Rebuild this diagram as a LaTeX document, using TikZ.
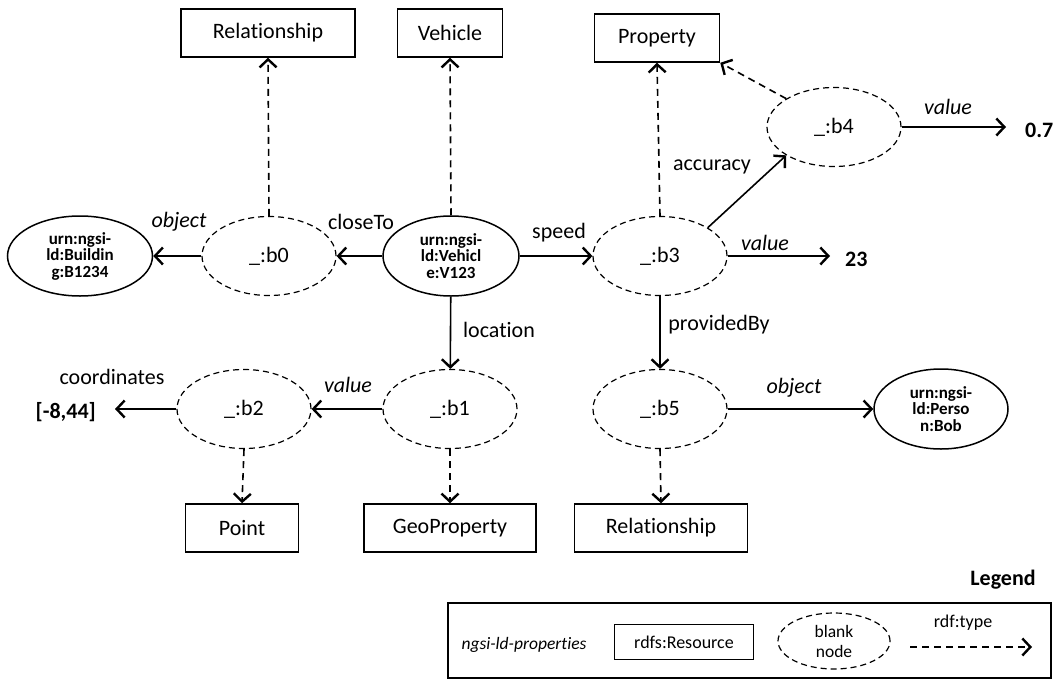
\documentclass[tikz,border=0pt]{standalone}
\usepackage{fontspec}
\setmainfont{Carlito}[Ligatures={NoCommon}]
\usetikzlibrary{shapes.geometric,arrows.meta}
\begin{document}
\begin{tikzpicture}[x=1pt,y=-1pt,
  font=\fontsize{22}{26}\selectfont,
  box/.style={draw,line width=1.5pt,minimum height=48pt,inner sep=0pt},
  res/.style={draw,ellipse,line width=1.5pt,minimum width=#1,minimum height=80pt,inner sep=0pt,align=center,font=\fontsize{17}{16.5}\selectfont\bfseries},
  blank/.style={draw,ellipse,dash pattern=on 6pt off 4pt,line width=1.2pt,minimum width=134pt,minimum height=79pt,inner sep=0pt},
  rel/.style={line width=1.6pt,-{Straight Barb[length=8pt,width=17pt,line width=2.4pt]}},
  typ/.style={rel,dash pattern=on 7pt off 5pt},
  lab/.style={inner sep=0pt},
  ilab/.style={inner sep=0pt,font=\fontsize{22}{26}\selectfont\itshape},
  val/.style={inner sep=0pt,font=\fontsize{22}{26}\selectfont\bfseries},
  legtxt/.style={inner sep=0pt,font=\fontsize{18}{20}\selectfont},
]
\useasboundingbox (0,0) rectangle (1057,680);

% type boxes
\node[box,minimum width=174pt] (trel1) at (268,33) {Relationship};
\node[box,minimum width=105pt] (tveh) at (450,33) {Vehicle};
\node[box,minimum width=125pt] (tprop) at (657,38) {Property};
\node[box,minimum width=113pt] (tpoint) at (242,528) {Point};
\node[box,minimum width=172pt] (tgeo) at (450,528) {GeoProperty};
\node[box,minimum width=173pt] (trel2) at (661,528) {Relationship};

% resources
\node[res=145pt] (bld) at (80,256) {urn:ngsi-\\ld:Buildin\\g:B1234};
\node[res=136pt] (veh) at (451,256) {urn:ngsi-\\ld:Vehicl\\e:V123};
\node[res=134pt] (per) at (941,409) {urn:ngsi-\\ld:Perso\\n:Bob};

% blank nodes
\node[blank] (b0) at (269,256) {\_:b0};
\node[blank] (b3) at (660,256) {\_:b3};
\node[blank] (b4) at (834,127) {\_:b4};
\node[blank] (b1) at (450,409) {\_:b1};
\node[blank] (b2) at (244,409) {\_:b2};
\node[blank] (b5) at (660,409) {\_:b5};

% literal values
\node[val,anchor=west] (v07) at (1025,130) {0.7};
\node[val,anchor=west] (v23) at (845,259) {23};
\node[val,anchor=east] (vco) at (96,412) {[-8,44]};

% connectors
\draw[rel] (veh) -- (b0);
\draw[rel] (b0) -- (bld);
\draw[rel] (veh) -- (b3);
\draw[rel] (veh) -- (b1);
\draw[rel] (b3.north east) -- (b4.south west);
\draw[rel,shorten >=19pt] (b4.east) -- (b4.east -| v07.west);
\draw[rel,shorten >=15pt] (b3.east) -- (b3.east -| v23.west);
\draw[rel] (b3) -- (b5);
\draw[rel] (b5) -- (per);
\draw[rel] (b1) -- (b2);
\draw[rel,shorten >=19pt] (b2.west) -- (b2.west -| vco.east);

\draw[typ] (b0.north) -- (trel1.south);
\draw[typ] (veh.north) -- (tveh.south);
\draw[typ] (b3.north) -- (tprop.south);
\draw[typ] (b4.north west) -- (tprop.south east);
\draw[typ] (b2.south) -- (tpoint.north);
\draw[typ] (b1.south) -- (tgeo.north);
\draw[typ] (b5.south) -- (trel2.north);

% edge labels
\node[ilab] (lobj1) at (179,222) {object};
\node[lab] (lclose) at (361,222) {closeTo};
\node[lab] (lspeed) at (559,233) {speed};
\node[ilab] (lval3) at (765,243) {value};
\node[lab] (lacc) at (712,167) {accuracy};
\node[ilab] (lval4) at (948,107) {value};
\node[lab] (lloc) at (499,330) {location};
\node[lab] (lprov) at (719,325) {providedBy};
\node[ilab] (lobj2) at (794,388) {object};
\node[ilab] (lval1) at (348,385) {value};
\node[lab] (lcoord) at (112,377) {coordinates};

% legend
\node[inner sep=0pt,font=\fontsize{22}{24}\selectfont\bfseries] (legt) at (1003,580) {Legend};
\node[draw,line width=1.3pt,minimum width=603pt,minimum height=75pt,inner sep=0pt] (legbox) at (749.5,640.5) {};
\node[legtxt,font=\fontsize{17.5}{20}\selectfont\itshape] (lgp) at (524,645) {ngsi-ld-properties};
\node[legtxt,draw,line width=1.5pt,minimum width=139pt,minimum height=35pt] (lgr) at (684,642) {rdfs:Resource};
\node[legtxt,draw,ellipse,dash pattern=on 6pt off 4pt,line width=1.2pt,minimum width=112pt,minimum height=56pt,align=center,font=\fontsize{17.5}{20}\selectfont] (lgb) at (834,641) {blank\\node};
\node[legtxt] (lgt) at (963,623) {rdf:type};
\coordinate (la1) at (910,647);
\coordinate (la2) at (1032,647);
\draw[typ] (la1) -- (la2);
\end{tikzpicture}
\end{document}
